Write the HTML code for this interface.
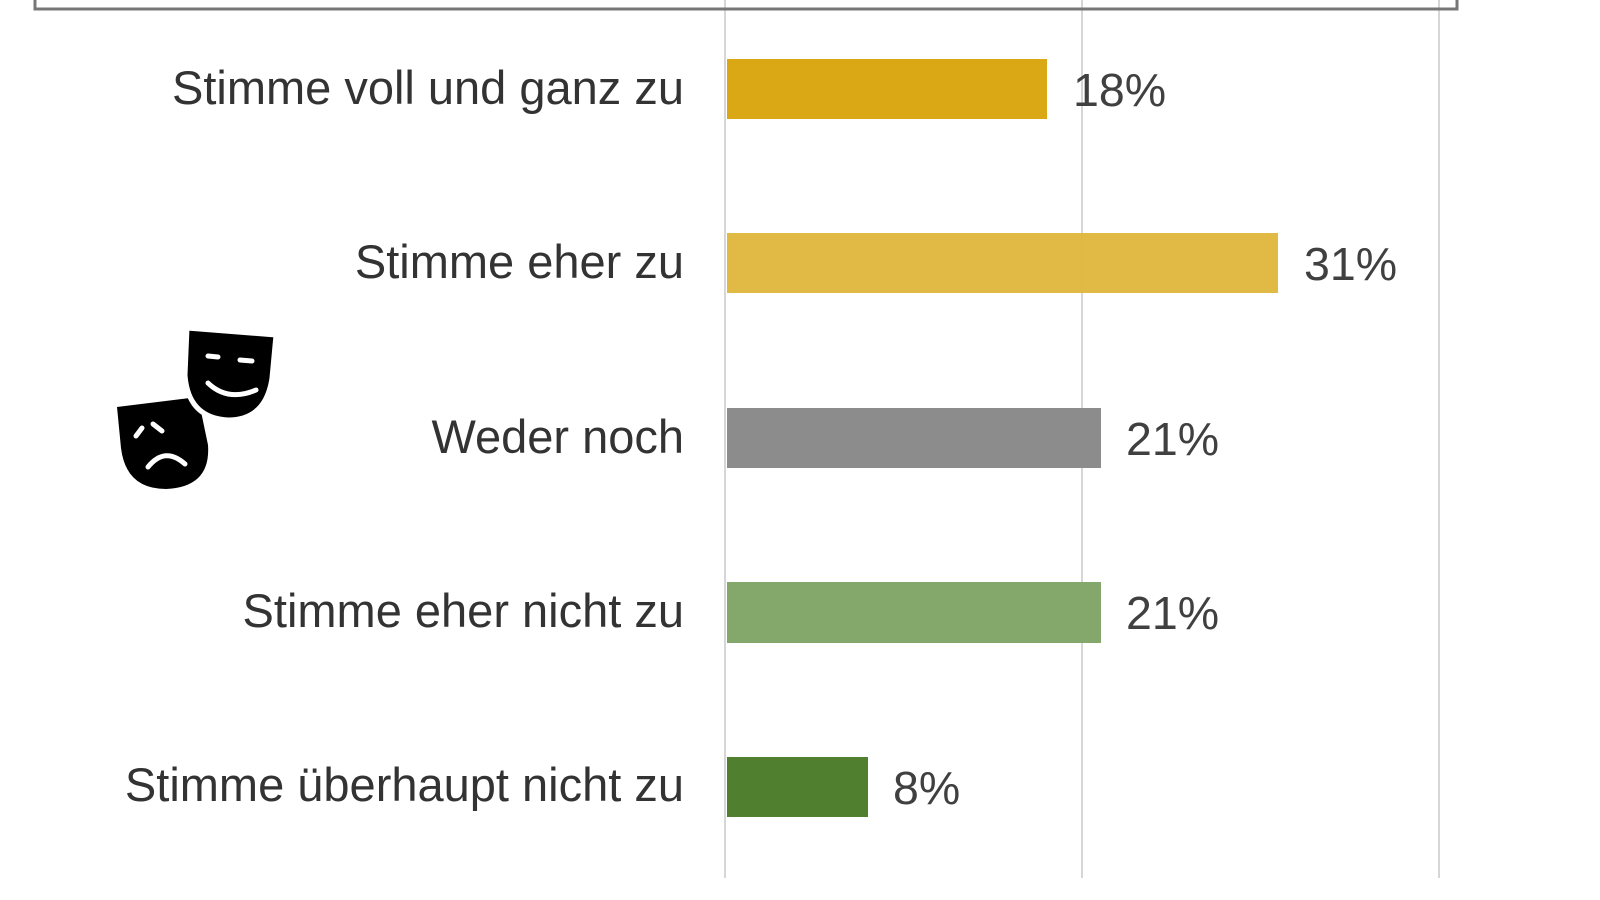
<!DOCTYPE html>
<html><head><meta charset="utf-8"><style>
html,body{margin:0;padding:0;background:#fff;}
body{width:1600px;height:900px;position:relative;overflow:hidden;font-family:"Liberation Sans",sans-serif;}
</style></head><body>
<svg width="1600" height="900" viewBox="0 0 1600 900" xmlns="http://www.w3.org/2000/svg" style="position:absolute;left:0;top:0">
<rect x="0" y="0" width="1600" height="900" fill="#fff"/>
<line x1="725" y1="0" x2="725" y2="878" stroke="#d6d6d6" stroke-width="2"/>
<line x1="1082" y1="0" x2="1082" y2="878" stroke="#d6d6d6" stroke-width="2"/>
<line x1="1439" y1="0" x2="1439" y2="878" stroke="#d6d6d6" stroke-width="2"/>
<rect x="35" y="-10" width="1422" height="19" fill="none" stroke="#777" stroke-width="3"/>
<rect x="727" y="59" width="320" height="60" fill="#daa815"/>
<rect x="727" y="233" width="551" height="60" fill="#e0b840" opacity="0.97"/>
<rect x="727" y="408" width="374" height="60" fill="#8c8c8d"/>
<rect x="727" y="582" width="374" height="61" fill="#84a86c"/>
<rect x="727" y="757" width="141" height="60" fill="#4f7f2f"/>
<g font-size="47" fill="#333" text-anchor="end">
<text x="684" y="104">Stimme voll und ganz zu</text>
<text x="684" y="278">Stimme eher zu</text>
<text x="684" y="453">Weder noch</text>
<text x="684" y="627">Stimme eher nicht zu</text>
<text x="684" y="801">Stimme überhaupt nicht zu</text>
</g>
<g font-size="46.5" fill="#404040">
<text x="1073" y="106">18%</text>
<text x="1304" y="280">31%</text>
<text x="1126" y="455">21%</text>
<text x="1126" y="629">21%</text>
<text x="893" y="804">8%</text>
</g>
<path d="M117,407 L198,397 L208,445 Q211,487 166,489 Q126,489 121,448 Z" fill="#000"/>
<path d="M136,436 L142,428 M153,424 L162,431" stroke="#fff" stroke-width="5" stroke-linecap="round"/>
<path d="M148,467 Q165,446 185,464" fill="none" stroke="#fff" stroke-width="5" stroke-linecap="round"/>
<path d="M187,328 L276,335 L272,378 Q266,420 228,420 Q188,418 185,375 Z" fill="#000" stroke="#fff" stroke-width="5"/>
<path d="M208,356 L218,357 M240,360 L252,361" stroke="#fff" stroke-width="5" stroke-linecap="round"/>
<path d="M208,383 Q228,402 256,390" fill="none" stroke="#fff" stroke-width="5" stroke-linecap="round"/>
</svg>
</body></html>
